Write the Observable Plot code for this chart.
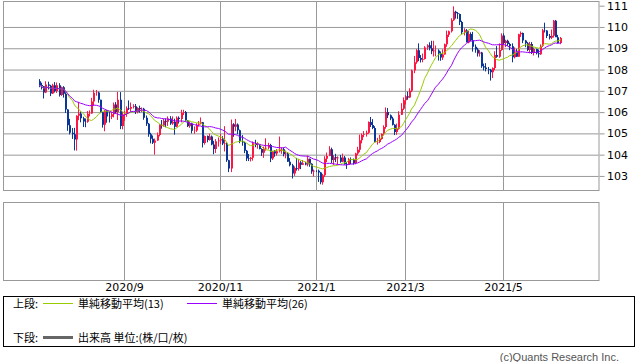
<!DOCTYPE html>
<html><head><meta charset="utf-8">
<script src="https://cdn.jsdelivr.net/npm/d3@7"></script>
<script src="https://cdn.jsdelivr.net/npm/@observablehq/plot@0.6"></script>
<style>
html,body{margin:0;padding:0;background:#fff;}
#chart{position:relative;width:638px;height:362px;overflow:hidden;font-family:"Noto Sans CJK JP",sans-serif;background:#fff;}
.pane{position:absolute;left:0;}
.lbl{position:absolute;font-size:11px;line-height:12px;color:#000;white-space:nowrap;transform:translateY(-50%);}
.sw{position:absolute;}
#upper g[aria-label="y-axis tick"] path,#upper .tick line{stroke:#999;}
</style></head><body><div id="chart"></div>
<script>
// Month tick labels and the bar index (trading day) where each month starts
const monthLabels = ["2020/9","2020/11","2021/1","2021/3","2021/5"];
const monthBars = [39, 83, 127, 168, 213];
const priceTicks = [103,104,105,106,107,108,109,110,111];
const priceGrid = [103,104,105,106,107,108,109,110];

// Daily OHLC, 2020-07-08 .. 2021-06-08 (one entry per weekday)
const opens = [
107.45,107.27,107.22,106.92,107.30,107.24,106.87,107.26,106.99,107.26,106.80,107.17,106.86,106.12,105.38,105.03,104.96,104.71,
105.83,105.94,105.71,105.56,105.55,105.92,105.94,106.50,106.91,106.92,106.58,105.99,105.41,106.07,105.79,105.78,105.90,106.36,106.00,106.58,105.35,
105.89,105.95,106.18,106.16,106.24,106.28,106.01,106.19,106.14,106.16,105.73,105.45,104.96,104.75,104.56,104.67,104.93,105.40,105.37,105.59,105.55,105.70,
105.46,105.53,105.31,105.74,105.68,105.97,106.00,105.61,105.33,105.47,105.12,105.13,105.40,105.45,105.52,104.55,104.88,104.69,104.85,104.48,104.27,104.63,
104.66,104.73,104.52,104.55,103.74,103.35,105.43,105.31,105.42,105.15,104.63,104.57,104.19,103.82,103.80,103.85,104.54,104.46,104.47,104.27,104.09,
104.29,104.33,104.45,103.82,104.16,104.06,104.16,104.23,104.25,104.02,104.06,103.67,103.50,103.11,103.37,103.34,103.63,103.53,103.60,103.54,103.81,103.57,103.21,
103.25,103.24,103.16,102.70,103.03,103.81,103.94,104.25,103.75,103.88,103.83,103.87,103.67,103.87,103.55,103.51,103.78,103.75,103.61,104.06,104.23,
104.68,104.93,104.96,105.03,105.53,105.39,105.25,104.58,104.59,104.74,104.97,105.30,106.00,105.85,105.70,105.41,105.07,105.22,105.87,106.16,
106.56,106.74,106.69,107.00,107.95,108.34,108.91,108.54,108.46,108.50,109.04,109.14,109.00,108.86,108.89,108.90,108.75,108.57,108.71,109.19,109.63,109.80,110.32,
110.72,110.64,110.61,110.23,109.75,109.85,109.27,109.67,109.38,109.07,108.94,108.75,108.80,108.16,108.10,108.02,107.99,107.87,108.07,108.68,108.60,108.92,
109.60,109.25,109.35,109.20,109.09,108.58,108.81,108.60,109.66,109.72,109.36,109.23,108.92,109.20,108.78,108.96,108.76,108.72,109.12,109.84,109.83,
109.58,109.49,109.59,110.29,109.52,109.25
];
const highs = [
107.55,107.38,107.22,107.45,107.43,107.28,107.33,107.41,107.39,107.36,107.20,107.22,106.93,106.14,105.68,105.25,105.26,105.85,
106.48,106.03,105.78,105.70,106.05,106.08,106.67,107.05,107.04,106.96,106.58,106.00,106.10,106.10,106.00,106.02,106.45,106.47,106.95,106.94,106.00,
106.06,106.27,106.55,106.45,106.37,106.38,106.23,106.30,106.22,106.20,105.84,105.49,105.03,104.90,104.76,105.04,105.42,105.63,105.69,105.70,105.80,105.81,
105.80,105.69,105.80,105.80,106.11,106.11,106.05,105.62,105.56,105.50,105.33,105.48,105.58,105.75,105.54,104.90,104.90,104.99,104.90,104.65,104.73,104.81,
104.98,104.87,105.34,104.58,103.76,105.65,105.48,105.68,105.47,105.18,104.92,104.61,104.22,104.03,103.90,104.62,104.70,104.60,104.50,104.30,104.38,
104.77,104.56,104.51,104.18,104.22,104.26,104.85,104.35,104.34,104.19,104.12,103.84,103.57,103.45,103.85,103.78,103.70,103.75,103.66,103.95,103.81,103.60,103.30,
103.27,103.30,103.19,103.10,103.93,104.10,104.40,104.33,103.98,104.04,103.92,103.99,104.05,103.94,103.66,103.85,103.87,103.82,104.09,104.37,104.94,
105.00,105.11,105.13,105.56,105.77,105.67,105.34,104.79,104.93,105.00,105.38,106.22,106.19,105.89,105.78,105.43,105.46,106.04,106.42,106.69,
106.80,106.96,107.12,108.00,108.64,108.96,109.23,108.68,108.75,109.10,109.19,109.28,109.35,109.35,109.13,108.95,108.85,108.95,109.22,109.83,109.83,110.41,110.97,
110.76,110.70,110.63,110.29,109.94,109.90,109.82,109.75,109.77,109.18,109.02,108.91,108.83,108.28,108.30,108.12,108.03,108.10,108.86,109.10,109.23,109.70,
109.70,109.40,109.40,109.26,109.23,109.04,108.97,109.68,109.79,109.74,109.39,109.29,109.30,109.29,109.04,108.98,108.94,109.18,109.91,110.20,109.85,
109.67,109.88,110.33,110.33,109.63,109.53
];
const lows = [
107.17,107.06,106.64,106.89,107.06,106.75,106.85,106.92,106.90,106.73,106.76,106.68,105.96,105.12,104.95,104.74,104.20,104.19,
105.62,105.52,105.30,105.29,105.50,105.80,105.93,106.29,106.77,106.44,105.95,105.27,105.10,105.50,105.51,105.67,105.75,105.93,105.63,105.20,105.19,
105.59,105.78,106.10,106.01,106.17,105.91,105.94,105.97,106.00,105.64,105.35,104.84,104.53,104.50,104.00,104.65,104.86,105.22,105.31,105.29,105.35,105.40,
105.40,104.94,105.29,105.46,105.52,105.86,105.56,105.30,105.26,105.00,104.98,105.07,105.32,105.42,104.34,104.47,104.58,104.66,104.44,104.02,104.08,104.38,
104.50,104.45,104.15,103.66,103.18,103.18,104.84,105.10,104.96,104.54,104.42,104.07,103.70,103.70,103.68,103.72,104.35,104.28,104.25,103.94,103.85,
104.19,104.25,103.65,103.75,103.90,103.95,104.10,104.04,103.92,103.83,103.67,103.45,102.88,103.00,103.25,103.25,103.32,103.51,103.50,103.45,103.43,103.10,102.98,
103.18,102.72,102.61,102.59,102.96,103.65,103.93,103.61,103.52,103.65,103.51,103.62,103.65,103.53,103.33,103.51,103.56,103.53,103.55,103.97,104.11,
104.53,104.82,104.85,104.98,105.30,105.20,104.59,104.47,104.54,104.70,104.90,105.22,105.72,105.62,105.37,104.92,104.93,105.17,105.86,106.10,
106.36,106.58,106.66,106.94,107.83,108.27,108.39,108.33,108.34,108.47,108.92,108.90,108.72,108.61,108.62,108.42,108.41,108.45,108.70,109.07,109.53,109.74,110.28,
110.39,110.38,110.09,109.65,109.60,109.29,109.23,109.33,108.84,108.79,108.61,108.61,108.08,107.96,107.91,107.78,107.48,107.60,107.97,108.55,108.55,108.88,
109.15,109.05,109.10,108.91,108.34,108.52,108.60,108.60,109.53,109.24,109.05,108.86,108.76,108.73,108.66,108.71,108.56,108.69,109.06,109.74,109.48,
109.41,109.43,109.50,109.54,109.22,109.19
];
const closes = [
107.27,107.22,106.92,107.30,107.24,106.87,107.26,106.99,107.26,106.80,107.17,106.86,106.12,105.38,105.03,104.96,104.71,105.83,
105.94,105.71,105.56,105.55,105.92,105.94,106.50,106.91,106.92,106.58,105.99,105.41,106.07,105.79,105.78,105.90,106.36,106.00,106.58,105.35,105.89,
105.95,106.18,106.16,106.24,106.28,106.01,106.19,106.14,106.16,105.73,105.45,104.96,104.75,104.56,104.67,104.93,105.40,105.37,105.59,105.55,105.70,105.46,
105.53,105.31,105.74,105.68,105.97,106.00,105.61,105.33,105.47,105.12,105.13,105.40,105.45,105.52,104.55,104.88,104.69,104.85,104.48,104.27,104.63,104.66,
104.73,104.52,104.55,103.74,103.35,105.43,105.31,105.42,105.15,104.63,104.57,104.19,103.82,103.80,103.85,104.54,104.46,104.47,104.27,104.09,104.29,
104.33,104.45,103.82,104.16,104.06,104.16,104.23,104.25,104.02,104.06,103.67,103.50,103.11,103.37,103.34,103.63,103.53,103.60,103.54,103.81,103.57,103.21,103.25,
103.24,103.16,102.70,103.03,103.81,103.94,104.25,103.75,103.88,103.83,103.87,103.67,103.87,103.55,103.51,103.78,103.75,103.61,104.06,104.23,104.68,
104.93,104.96,105.03,105.53,105.39,105.25,104.58,104.59,104.74,104.97,105.30,106.00,105.85,105.70,105.41,105.07,105.22,105.87,106.16,106.56,
106.74,106.69,107.00,107.95,108.34,108.91,108.54,108.46,108.50,109.04,109.14,109.00,108.86,108.89,108.90,108.75,108.57,108.71,109.19,109.63,109.80,110.32,110.72,
110.64,110.61,110.23,109.75,109.85,109.27,109.67,109.38,109.07,108.94,108.75,108.80,108.16,108.10,108.02,107.99,107.87,108.07,108.68,108.60,108.92,109.60,
109.25,109.35,109.20,109.09,108.58,108.81,108.60,109.66,109.72,109.36,109.23,108.92,109.20,108.78,108.96,108.76,108.72,109.12,109.84,109.83,109.58,
109.49,109.59,110.29,109.52,109.25,109.48
];

const bars = closes.map((c, i) => ({i, open: opens[i], high: highs[i], low: lows[i], close: c}));
const upColor = "#ff1744", downColor = "#0a3697";
const candleColor = d => d.close >= d.open ? upColor : downColor;
const labelOf = new Map(monthBars.map((b, k) => [b, monthLabels[k]]));
const xDomain = [-16.5, 256.9];
const axisStyle = {fontFamily: "DejaVu Sans", fontSize: "11px", color: "#000", background: "transparent", overflow: "visible"};

const upper = Plot.plot({
  width: 638, height: 192, marginLeft: 3, marginRight: 39.5, marginTop: 1, marginBottom: 2,
  x: {domain: xDomain, axis: null, round: true},
  y: {domain: [102.34, 111.22], axis: "right", ticks: priceTicks, tickSize: 5, tickPadding: 3, label: null, tickFormat: d => String(d)},
  color: {type: "identity"},
  style: axisStyle,
  marks: [
    Plot.ruleY(priceGrid, {stroke: "#999"}),
    Plot.ruleX(monthBars, {stroke: "#999"}),
    Plot.ruleX(bars, {x: "i", y1: "low", y2: "high", stroke: candleColor, strokeWidth: 1}),
    Plot.ruleX(bars, {x: "i", y1: "open", y2: "close", stroke: candleColor, strokeWidth: 2, dx: 0.5}),
    Plot.lineY(bars, Plot.windowY({k: 13, anchor: "end"}, {x: "i", y: "close", stroke: "#99cc00", strokeWidth: 1})),
    Plot.lineY(bars, Plot.windowY({k: 26, anchor: "end"}, {x: "i", y: "close", stroke: "#9900ff", strokeWidth: 1})),
    Plot.frame({stroke: "#999"})
  ]
});

const lower = Plot.plot({
  width: 638, height: 102, marginLeft: 3, marginRight: 39.5, marginTop: 10, marginBottom: 14,
  x: {domain: xDomain, round: true, ticks: monthBars, tickFormat: d => labelOf.get(d), tickSize: 0, tickPadding: 3, label: null},
  y: {domain: [0, 1], axis: null},
  style: axisStyle,
  marks: [
    Plot.ruleX(monthBars, {stroke: "#999"}),
    Plot.frame({stroke: "#999"})
  ]
});

const chart = document.getElementById("chart");
const up = document.createElement("div"); up.className = "pane"; up.id = "upper"; up.style.top = "0px"; up.appendChild(upper);
const lo = document.createElement("div"); lo.className = "pane"; lo.style.top = "192px"; lo.appendChild(lower);
chart.appendChild(up); chart.appendChild(lo);

function addLabel(text, left, cy, extra) {
  const d = document.createElement("div");
  d.className = "lbl"; d.textContent = text;
  d.style.left = left + "px"; d.style.top = cy + "px";
  if (extra) Object.assign(d.style, extra);
  chart.appendChild(d);
}
function addSwatch(left, top, w, h, color) {
  const s = document.createElement("div");
  s.className = "sw";
  Object.assign(s.style, {left: left + "px", top: top + "px", width: w + "px", height: h + "px", background: color});
  chart.appendChild(s);
}
const box = document.createElement("div");
Object.assign(box.style, {position: "absolute", left: "3px", top: "296px", width: "632px", height: "51px", border: "1px solid #000", boxSizing: "border-box"});
chart.appendChild(box);

addLabel("上段:", 13, 303);
addSwatch(43, 303, 30, 1, "#99cc00");
addLabel("単純移動平均(13)", 78, 303);
addSwatch(187, 303, 30, 1, "#9900ff");
addLabel("単純移動平均(26)", 222, 303);
addLabel("下段:", 13, 337);
addSwatch(43, 336, 30, 3, "#666");
addLabel("出来高 単位:(株/口/枚)", 78, 337);

const copy = document.createElement("div");
copy.className = "lbl"; copy.textContent = "(c)Quants Research Inc.";
Object.assign(copy.style, {right: "19px", top: "357px", fontFamily: "'Liberation Sans', sans-serif", color: "#555"});
chart.appendChild(copy);
</script>
</body></html>
